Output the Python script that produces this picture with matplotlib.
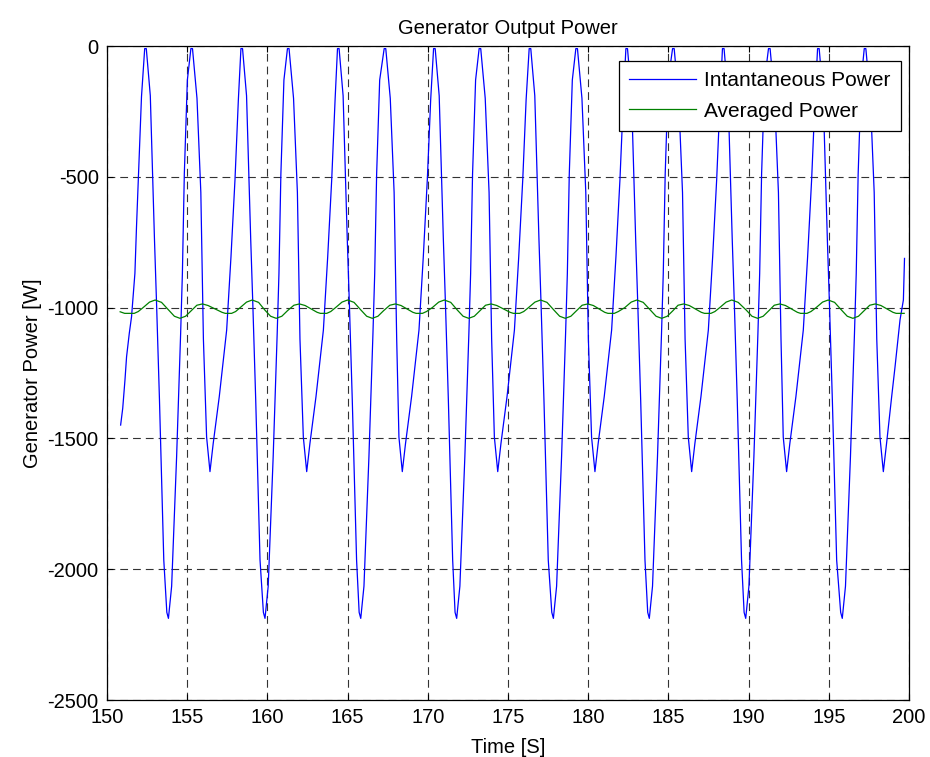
import matplotlib
matplotlib.use("Agg")
import matplotlib.pyplot as plt

plt.rcParams['font.family'] = ['Liberation Sans', 'DejaVu Sans']
plt.rcParams['axes.unicode_minus'] = False

# Instantaneous generator power [W] vs time [s]
power_t = [
    150.85, 150.98, 151.12, 151.22, 151.39, 151.53, 151.74, 151.84, 151.95, 152.15,
    152.35, 152.45, 152.70, 152.96, 153.09, 153.27, 153.54, 153.73, 153.83, 154.03, 154.34, 154.59, 154.70, 154.82, 155.01,
    155.23, 155.33, 155.61, 155.85, 156.01, 156.21, 156.42, 156.62, 157.00, 157.46, 157.73, 157.98, 158.19,
    158.35, 158.45, 158.70, 158.96, 159.09, 159.27, 159.54, 159.75, 159.85, 160.05, 160.36, 160.61, 160.72, 160.84, 161.03,
    161.25, 161.35, 161.63, 161.87, 162.03, 162.24, 162.45, 162.65, 163.03, 163.49, 163.76, 164.01, 164.22,
    164.37, 164.47, 164.72, 164.98, 165.11, 165.29, 165.56, 165.72, 165.82, 166.02, 166.33, 166.58, 166.69, 166.81, 167.00,
    167.28, 167.38, 167.66, 167.90, 168.06, 168.20, 168.41, 168.61, 168.99, 169.45, 169.72, 169.97, 170.18,
    170.36, 170.46, 170.71, 170.97, 171.10, 171.28, 171.55, 171.70, 171.80, 172.00, 172.31, 172.56, 172.67, 172.79, 172.98,
    173.20, 173.30, 173.58, 173.82, 173.98, 174.15, 174.36, 174.56, 174.94, 175.40, 175.67, 175.92, 176.13,
    176.32, 176.42, 176.67, 176.93, 177.06, 177.24, 177.51, 177.73, 177.83, 178.03, 178.34, 178.59, 178.70, 178.82, 179.01,
    179.23, 179.33, 179.61, 179.85, 180.01, 180.21, 180.42, 180.62, 181.00, 181.46, 181.73, 181.98, 182.19,
    182.35, 182.45, 182.70, 182.96, 183.09, 183.27, 183.54, 183.71, 183.81, 184.01, 184.32, 184.57, 184.68, 184.80, 184.99,
    185.26, 185.36, 185.64, 185.88, 186.04, 186.24, 186.45, 186.65, 187.03, 187.49, 187.76, 188.01, 188.22,
    188.37, 188.47, 188.72, 188.98, 189.11, 189.29, 189.56, 189.72, 189.82, 190.02, 190.33, 190.58, 190.69, 190.81, 191.00,
    191.24, 191.34, 191.62, 191.86, 192.02, 192.16, 192.37, 192.57, 192.95, 193.41, 193.68, 193.93, 194.14,
    194.30, 194.40, 194.65, 194.91, 195.04, 195.22, 195.49, 195.74, 195.84, 196.04, 196.35, 196.60, 196.71, 196.83, 197.02,
    197.21, 197.31, 197.59, 197.83, 197.99, 198.19, 198.40, 198.60, 198.92, 199.13, 199.44, 199.65, 199.72,
]
power_w = [
    -1449, -1385, -1277, -1188, -1098, -1035, -869, -690, -512, -194,
    -10, -10, -190, -740, -985, -1350, -1965, -2165, -2188, -2065, -1570, -1100, -870, -490, -130,
    -10, -10, -200, -560, -1120, -1495, -1627, -1520, -1340, -1086, -805, -510, -205,
    -10, -10, -190, -740, -985, -1350, -1965, -2165, -2188, -2065, -1570, -1100, -870, -490, -130,
    -10, -10, -200, -560, -1120, -1495, -1627, -1520, -1340, -1086, -805, -510, -205,
    -10, -10, -190, -740, -985, -1350, -1965, -2165, -2188, -2065, -1570, -1100, -870, -490, -130,
    -10, -10, -200, -560, -1120, -1495, -1627, -1520, -1340, -1086, -805, -510, -205,
    -10, -10, -190, -740, -985, -1350, -1965, -2165, -2188, -2065, -1570, -1100, -870, -490, -130,
    -10, -10, -200, -560, -1120, -1495, -1627, -1520, -1340, -1086, -805, -510, -205,
    -10, -10, -190, -740, -985, -1350, -1965, -2165, -2188, -2065, -1570, -1100, -870, -490, -130,
    -10, -10, -200, -560, -1120, -1495, -1627, -1520, -1340, -1086, -805, -510, -205,
    -10, -10, -190, -740, -985, -1350, -1965, -2165, -2188, -2065, -1570, -1100, -870, -490, -130,
    -10, -10, -200, -560, -1120, -1495, -1627, -1520, -1340, -1086, -805, -510, -205,
    -10, -10, -190, -740, -985, -1350, -1965, -2165, -2188, -2065, -1570, -1100, -870, -490, -130,
    -10, -10, -200, -560, -1120, -1495, -1627, -1520, -1340, -1086, -805, -510, -205,
    -10, -10, -190, -740, -985, -1350, -1965, -2165, -2188, -2065, -1570, -1100, -870, -490, -130,
    -10, -10, -200, -560, -1120, -1495, -1627, -1520, -1340, -1226, -1047, -971, -812,
]

# Moving-average power [W]
avg_t = [
    150.82, 151.10, 151.70, 151.95, 152.25, 152.65,
    153.00, 153.40, 153.85, 154.20, 154.55, 154.90, 155.25, 155.60, 155.95, 156.30, 157.17, 157.37, 157.77, 158.02, 158.30, 158.70,
    159.05, 159.45, 159.85, 160.20, 160.55, 160.90, 161.25, 161.65, 162.00, 162.35, 163.10, 163.30, 163.70, 163.95, 164.25, 164.65,
    165.00, 165.40, 165.84, 166.19, 166.54, 166.89, 167.24, 167.63, 167.98, 168.33, 169.07, 169.27, 169.67, 169.92, 170.28, 170.68,
    171.03, 171.43, 171.85, 172.20, 172.55, 172.90, 173.25, 173.60, 173.95, 174.30, 175.13, 175.33, 175.73, 175.98, 176.28, 176.68,
    177.03, 177.43, 177.87, 178.22, 178.57, 178.92, 179.27, 179.62, 179.97, 180.32, 181.03, 181.23, 181.63, 181.88, 182.28, 182.68,
    183.03, 183.43, 183.88, 184.23, 184.58, 184.93, 185.28, 185.60, 185.95, 186.30, 187.05, 187.25, 187.65, 187.90, 188.20, 188.60,
    188.95, 189.35, 189.86, 190.21, 190.56, 190.91, 191.26, 191.60, 191.95, 192.30, 193.04, 193.24, 193.64, 193.89, 194.21, 194.61,
    194.96, 195.36, 195.80, 196.15, 196.50, 196.85, 197.20, 197.55, 197.90, 198.25, 199.00, 199.20, 199.70,
]
avg_w = [
    -1016, -1022, -1022, -1015, -1000, -979,
    -971, -980, -1010, -1033, -1041, -1033, -1012, -991, -986, -992, -1018, -1022, -1022, -1015, -1000, -979,
    -971, -980, -1010, -1033, -1041, -1033, -1012, -991, -986, -992, -1018, -1022, -1022, -1015, -1000, -979,
    -971, -980, -1010, -1033, -1041, -1033, -1012, -991, -986, -992, -1018, -1022, -1022, -1015, -1000, -979,
    -971, -980, -1010, -1033, -1041, -1033, -1012, -991, -986, -992, -1018, -1022, -1022, -1015, -1000, -979,
    -971, -980, -1010, -1033, -1041, -1033, -1012, -991, -986, -992, -1018, -1022, -1022, -1015, -1000, -979,
    -971, -980, -1010, -1033, -1041, -1033, -1012, -991, -986, -992, -1018, -1022, -1022, -1015, -1000, -979,
    -971, -980, -1010, -1033, -1041, -1033, -1012, -991, -986, -992, -1018, -1022, -1022, -1015, -1000, -979,
    -971, -980, -1010, -1033, -1041, -1033, -1012, -991, -986, -992, -1018, -1022, -1022,
]

x_ticks = [150, 155, 160, 165, 170, 175, 180, 185, 190, 195, 200]
y_ticks = [0, -500, -1000, -1500, -2000, -2500]

FS = 14.5

fig = plt.figure(figsize=(9.30, 7.57), dpi=100)
ax = fig.add_axes([107 / 930, 1 - 700 / 757, 802 / 930, 654 / 757])

ax.plot(power_t, power_w, color='#0000ff', lw=0.9, label='Intantaneous Power')
ax.plot(avg_t, avg_w, color='#008000', lw=0.9, label='Averaged Power')

ax.set_xlim(150, 200)
ax.set_ylim(-2500, 0)
ax.set_xticks(x_ticks)
ax.set_yticks(y_ticks)
ax.set_xticklabels([str(v) for v in x_ticks])
ax.set_yticklabels([str(v) for v in y_ticks])

ax.grid(True, color='0.2', lw=0.8, linestyle=(0, (7, 4.5)))
ax.set_axisbelow(True)

ax.tick_params(direction='in', length=4.5, width=0.8, top=True, right=True,
               labelsize=FS, pad=6, colors='black')
for s in ax.spines.values():
    s.set_linewidth(0.9)
    s.set_color('black')

ax.set_title('Generator Output Power', fontsize=FS, pad=9)
ax.set_xlabel('Time [S]', fontsize=FS, labelpad=8)
ax.set_ylabel('Generator Power [W]', fontsize=FS, labelpad=4)

leg = ax.legend(loc='upper right', bbox_to_anchor=(0.9897, 0.9775), fontsize=15,
                frameon=True, fancybox=False, shadow=False, framealpha=1,
                edgecolor='black', handlelength=3.2, handletextpad=0.4,
                borderpad=0.5, labelspacing=0.55, borderaxespad=0)
leg.get_frame().set_linewidth(0.9)

fig.savefig('out.png', dpi=100)
